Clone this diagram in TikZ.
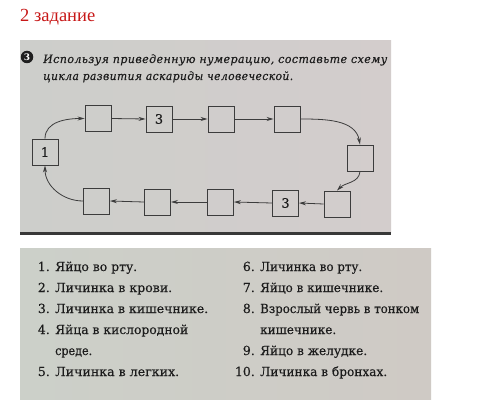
\documentclass[tikz,border=0pt]{standalone}
\usepackage{fontspec}
\usepackage{graphicx}
\setmainfont{DejaVu Serif}
\newfontfamily\timesfont{Liberation Serif}
\usetikzlibrary{arrows.meta}
\definecolor{titlered}{RGB}{200,24,24}
\definecolor{panelA}{RGB}{205,206,203}
\definecolor{panelAr}{RGB}{211,205,204}
\definecolor{panelB}{RGB}{204,208,201}
\definecolor{panelBr}{RGB}{207,202,197}
\definecolor{ink}{RGB}{28,28,28}
\definecolor{boxline}{RGB}{60,60,60}
\newcommand{\widetxt}[1]{{\addfontfeature{FakeBold=0.3}#1}}
\newcommand{\fitto}[2]{\resizebox{#1pt}{\height}{\addfontfeature{FakeBold=0.3}#2}}
\begin{document}
\begin{tikzpicture}[x=1pt,y=-1pt,
  cell/.style={draw=boxline, line width=0.9pt, minimum width=26pt, minimum height=26pt, inner sep=0pt, text=ink, font=\fontsize{13}{13}\selectfont},
  conn/.style={draw=boxline, line width=0.8pt, -{Stealth[length=7pt,width=4pt]}},
  itm/.style={anchor=base west, inner sep=0pt, text=ink, font=\fontsize{12.5}{12.5}\selectfont},
  num/.style={anchor=base east, inner sep=0pt, text=ink, font=\fontsize{12.5}{12.5}\selectfont},
  instr/.style={anchor=base west, inner sep=0pt, text=ink, font=\fontsize{11.5}{11.5}\selectfont\itshape}]
\useasboundingbox (0,0) rectangle (486,409);
\fill[white] (0,0) rectangle (486,409);
% title
\node[anchor=base west, inner sep=0pt, text=titlered, font=\timesfont\fontsize{18.5}{18.5}\selectfont] (title) at (20,22) {\resizebox{75pt}{\height}{2 задание}};
% top panel
\shade[left color=panelA, right color=panelAr] (20,41) rectangle (391,232);
\fill[black!78] (20,232) rectangle (391,235);
\node[circle, fill=black!88, inner sep=0pt, minimum size=12.5pt, text=white, font=\bfseries\fontsize{9}{9}\selectfont] (circ) at (27,57) {3};
\node[instr] (l1) at (43,63) {\resizebox{344pt}{\height}{\addfontfeature{LetterSpace=4,FakeBold=0.3}Используя приведенную нумерацию, составьте схему}};
\node[instr] (l2) at (43,80) {\resizebox{250pt}{\height}{\addfontfeature{LetterSpace=4,FakeBold=0.3}цикла развития аскариды человеческой.}};
% boxes
\node[cell] (b1) at (45,152) {\widetxt{1}};
\node[cell] (tA) at (98,118.5) {};
\node[cell] (t3) at (159,119) {\widetxt{3}};
\node[cell] (tC) at (221,119) {};
\node[cell] (tD) at (287,119) {};
\node[cell] (R) at (360,158) {};
\node[cell] (BR) at (337,204) {};
\node[cell] (B3) at (285.5,203) {\widetxt{3}};
\node[cell] (BC) at (220.5,202) {};
\node[cell] (BB) at (157.5,202) {};
\node[cell] (BA) at (96.5,201) {};
% connectors
\draw[conn] (b1.north) to[out=90,in=180] (tA.west);
\draw[conn] (tA.east) -- (t3.west);
\draw[conn] (t3.east) -- (tC.west);
\draw[conn] (tC.east) -- (tD.west);
\draw[conn] (tD.east) to[out=0,in=100] (R.north);
\draw[conn] (R.south) to[out=-95,in=45] (BR.north);
\draw[conn] (BR.west) -- (B3.east);
\draw[conn] (B3.west) -- (BC.east);
\draw[conn] (BC.west) -- (BB.east);
\draw[conn] (BB.west) -- (BA.east);
\draw[conn] (BA.west) to[out=180,in=-90] (b1.south);
% bottom panel
\shade[left color=panelB, right color=panelBr] (20,248) rectangle (431,399);
\node[num] (n1) at (50,271) {\widetxt{1.}};  \node[itm] (i1) at (55,271) {\fitto{82}{Яйцо во рту.}};
\node[num] (n2) at (50,292) {\widetxt{2.}};  \node[itm] (i2) at (55,292) {\fitto{117}{Личинка в крови.}};
\node[num] (n3) at (50,313) {\widetxt{3.}};  \node[itm] (i3) at (55,313) {\fitto{153}{Личинка в кишечнике.}};
\node[num] (n4) at (50,334) {\widetxt{4.}};  \node[itm] (i4) at (55,334) {\fitto{133}{Яйца в кислородной}};
\node[itm] (i4b) at (55,355) {\fitto{37}{среде.}};
\node[num] (n5) at (50,376) {\widetxt{5.}};  \node[itm] (i5) at (55,376) {\fitto{124}{Личинка в легких.}};
\node[num] (n6) at (255,271) {\widetxt{6.}}; \node[itm] (i6) at (260,271) {\fitto{102}{Личинка во рту.}};
\node[num] (n7) at (255,292) {\widetxt{7.}}; \node[itm] (i7) at (260,292) {\fitto{123}{Яйцо в кишечнике.}};
\node[num] (n8) at (255,313) {\widetxt{8.}}; \node[itm] (i8) at (260,313) {\fitto{159}{Взрослый червь в тонком}};
\node[itm] (i8b) at (260,334) {\fitto{76}{кишечнике.}};
\node[num] (n9) at (255,355) {\widetxt{9.}}; \node[itm] (i9) at (260,355) {\fitto{107}{Яйцо в желудке.}};
\node[num] (n10) at (255,376) {\widetxt{10.}}; \node[itm] (i10) at (260,376) {\fitto{127}{Личинка в бронхах.}};
\end{tikzpicture}
\end{document}
